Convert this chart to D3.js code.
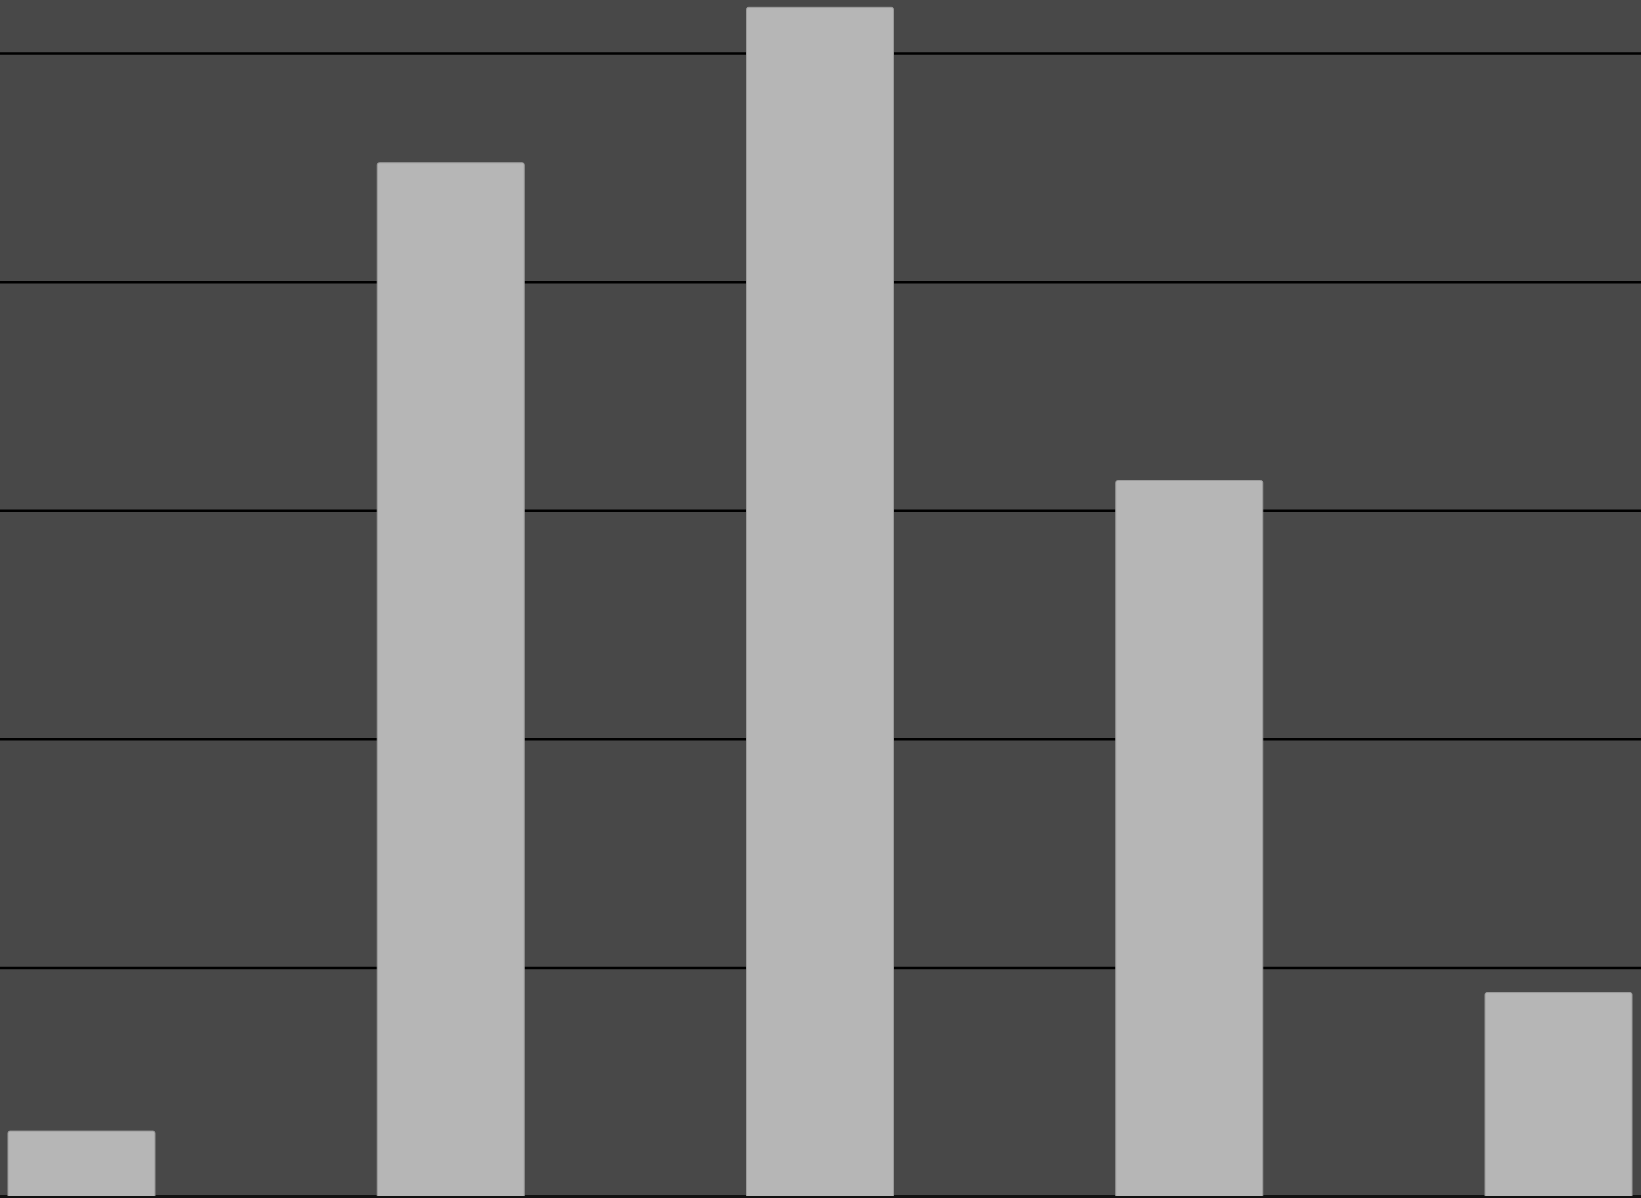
<!DOCTYPE html>
<html>
<head>
<meta charset="utf-8">
<script src="https://cdn.jsdelivr.net/npm/d3@7"></script>
<style>
  html, body { margin: 0; padding: 0; background: #484848; overflow: hidden; }
</style>
</head>
<body>
<div id="chart"></div>
<script>
const categories = ["A", "B", "C", "D", "E"];
const values = [2.84, 45.2, 52.0, 31.3, 8.9];
const yTicks = [0, 10, 20, 30, 40, 50];

const width = 1641;
const height = 1198;
const baseY = 1196;

const svg = d3.select("#chart")
    .append("svg")
    .attr("width", width)
    .attr("height", height)
    .style("display", "block");

svg.append("rect")
    .attr("width", width)
    .attr("height", height)
    .attr("fill", "#484848");

// scales
const x = d3.scaleBand()
    .domain(categories)
    .range([8, 1632])
    .paddingInner(0.602)
    .paddingOuter(0);

const y = d3.scaleLinear()
    .domain([0, 52.32])
    .range([baseY, 0]);

// gridlines (no labels in the picture)
const yAxis = d3.axisLeft(y)
    .tickValues(yTicks)
    .tickSize(-width)
    .tickFormat("");

const grid = svg.append("g")
    .attr("class", "grid")
    .call(yAxis);

grid.select(".domain").remove();
grid.selectAll(".tick line")
    .attr("stroke", "#000")
    .attr("stroke-width", 2.5);

// bars
svg.append("g")
    .selectAll("rect")
    .data(values)
    .join("rect")
    .attr("x", (d, i) => x(categories[i]))
    .attr("y", d => y(d))
    .attr("width", x.bandwidth())
    .attr("height", d => y(0) - y(d) + 2)
    .attr("rx", 2)
    .attr("fill", "#b6b6b6")
    .attr("stroke", "#9c9c9c")
    .attr("stroke-width", 1);

// baseline
svg.append("line")
    .attr("x1", 0)
    .attr("x2", width)
    .attr("y1", baseY + 1)
    .attr("y2", baseY + 1)
    .attr("stroke", "#111")
    .attr("stroke-width", 2);
</script>
</body>
</html>
